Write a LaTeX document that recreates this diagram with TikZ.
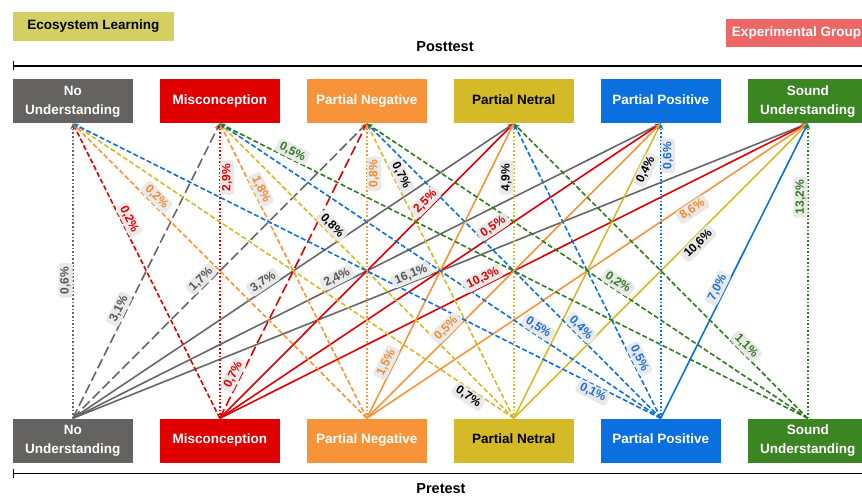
\documentclass[tikz,border=0pt]{standalone}
\usepackage{fontspec}
\setmainfont{Liberation Sans}
\usetikzlibrary{arrows.meta}
\pgfdeclarelayer{bglines}
\pgfsetlayers{bglines,main}
\definecolor{cgray}{HTML}{666666}
\definecolor{bgray}{HTML}{656262}
\definecolor{cred}{HTML}{E00000}
\definecolor{corange}{HTML}{F7943A}
\definecolor{cyellow}{HTML}{D5BA27}
\definecolor{cblue}{HTML}{0A70E0}
\definecolor{cgreen}{HTML}{3B8523}
\definecolor{lgreen}{HTML}{2E7A1E}
\definecolor{tgray}{HTML}{555555}
\definecolor{tred}{HTML}{E00000}
\definecolor{torange}{HTML}{F48A30}
\definecolor{tblue}{HTML}{1C6FD8}
\definecolor{tgreen}{HTML}{2F7D1F}
\definecolor{labfill}{HTML}{E9E9E9}
\definecolor{ecofill}{HTML}{D3CF62}
\definecolor{expfill}{HTML}{EE6767}
\newcommand\mylink[6]{%
  \begin{pgfonlayer}{bglines}\draw[#1,#2] (#3) -- (#4);\end{pgfonlayer}
  \path (#3) -- (#4) node[lab,#5]{#6};}
\begin{document}
\begin{tikzpicture}[x=1pt,y=-1pt,
  catbox/.style={minimum width=120pt,minimum height=44pt,inner sep=0pt,align=center,text=white,font=\bfseries\fontsize{13.5}{19}\selectfont},
  conn/.style={line width=1.6pt,-{Stealth[length=6pt,width=5pt]}},
  vline/.style={conn,dash pattern=on 1.6pt off 2pt},
  dline/.style={conn,dash pattern=on 5pt off 2.5pt},
  lline/.style={conn,dash pattern=on 10pt off 4pt},
  sline/.style={conn},
  lab/.style={fill=labfill,rounded corners=3pt,inner xsep=3.5pt,inner ysep=2pt,font=\bfseries\fontsize{12}{13}\selectfont},
]
\useasboundingbox (0,0) rectangle (862,498);

% header
\node[fill=ecofill,minimum width=161pt,minimum height=29pt,inner sep=0pt,font=\bfseries\fontsize{13.5}{15}\selectfont] (eco) at (93.4,26.5) {Ecosystem Learning};
\node[fill=expfill,text=white,minimum width=141pt,minimum height=28pt,inner sep=0pt,font=\bfseries\fontsize{13.5}{15}\selectfont] (exp) at (796.5,33) {Experimental Group};
\node[font=\bfseries\fontsize{14.5}{16}\selectfont] (post) at (445,47) {Posttest};
\node[font=\bfseries\fontsize{14.5}{16}\selectfont] (pre) at (441,489) {Pretest};
\coordinate (pl) at (12.7,65.7); \coordinate (pr) at (870,65.7);
\coordinate (ql) at (12.7,473.3); \coordinate (qr) at (870,473.3);
\draw[line width=1.6pt,{Bar[width=9pt]}-] (pl) -- (pr);
\draw[line width=1.6pt,{Bar[width=9pt]}-] (ql) -- (qr);

% posttest boxes
\node[catbox,fill=bgray] (tNU) at (72.8,101.3) {No\\Understanding};
\node[catbox,fill=cred] (tMC) at (219.8,101.3) {Misconception};
\node[catbox,fill=corange] (tPNg) at (366.8,101.3) {Partial Negative};
\node[catbox,fill=cyellow,text=black] (tPNt) at (513.8,101.3) {Partial Netral\vphantom{g}};
\node[catbox,fill=cblue] (tPPo) at (660.8,101.3) {Partial Positive\vphantom{g}};
\node[catbox,fill=cgreen] (tSU) at (807.8,101.3) {Sound\\Understanding};
% pretest boxes
\node[catbox,fill=bgray] (bNU) at (72.8,440.5) {No\\Understanding};
\node[catbox,fill=cred] (bMC) at (219.8,440.5) {Misconception};
\node[catbox,fill=corange] (bPNg) at (366.8,440.5) {Partial Negative};
\node[catbox,fill=cyellow,text=black] (bPNt) at (513.8,440.5) {Partial Netral\vphantom{g}};
\node[catbox,fill=cblue] (bPPo) at (660.8,440.5) {Partial Positive\vphantom{g}};
\node[catbox,fill=cgreen] (bSU) at (807.8,440.5) {Sound\\Understanding};

% gray
\mylink{vline}{cgray}{bNU.north}{tNU.south}{pos=.468,rotate=90,anchor=south,text=tgray}{0,6\%}
\mylink{lline}{cgray}{bNU.north}{tMC.south}{pos=.359,sloped,above,text=tgray}{3,1\%}
\mylink{lline}{cgray}{bNU.north}{tPNg.south}{pos=.454,sloped,above,text=tgray}{1,7\%}
\mylink{sline}{cgray}{bNU.north}{tPNt.south}{pos=.441,sloped,above,text=tgray}{3,7\%}
\mylink{sline}{cgray}{bNU.north}{tPPo.south}{pos=.455,sloped,above,text=tgray}{2,4\%}
\mylink{sline}{cgray}{bNU.north}{tSU.south}{pos=.464,sloped,above,text=tgray}{16,1\%}
% red
\mylink{dline}{cred}{bMC.north}{tNU.south}{pos=.663,sloped,above,text=tred}{0,2\%}
\mylink{vline}{cred}{bMC.north}{tMC.south}{pos=.817,rotate=90,anchor=north,text=tred}{2,9\%}
\mylink{lline}{cred}{bMC.north}{tPNg.south}{pos=.136,sloped,above,text=tred}{0,7\%}
\mylink{sline}{cred}{bMC.north}{tPNt.south}{pos=.717,sloped,above,text=tred}{2,5\%}
\mylink{sline}{cred}{bMC.north}{tPPo.south}{pos=.629,sloped,above,text=tred}{0,5\%}
\mylink{sline}{cred}{bMC.north}{tSU.south}{pos=.453,sloped,above,text=tred}{10,3\%}
% orange
\mylink{dline}{corange}{bPNg.north}{tNU.south}{pos=.733,sloped,above,text=torange}{0,2\%}
\mylink{dline}{corange}{bPNg.north}{tMC.south}{pos=.765,sloped,above,text=torange}{1,8\%}
\mylink{vline}{corange}{bPNg.north}{tPNg.south}{pos=.83,rotate=90,anchor=north,text=torange}{0,8\%}
\mylink{sline}{corange}{bPNg.north}{tPNt.south}{pos=.178,sloped,above,text=torange}{1,5\%}
\mylink{sline}{corange}{bPNg.north}{tPPo.south}{pos=.288,sloped,above,text=torange}{0,5\%}
\mylink{sline}{corange}{bPNg.north}{tSU.south}{pos=.729,sloped,below,text=torange}{8,6\%}
% yellow
\mylink{dline}{cyellow}{bPNt.north}{tNU.south}{pos=.094,sloped,below,text=black}{0,7\%}
\mylink{dline}{cyellow}{bPNt.north}{tMC.south}{pos=.636,sloped,above,text=black}{0,8\%}
\mylink{dline}{cyellow}{bPNt.north}{tPNg.south}{pos=.812,sloped,above,text=black}{0,7\%}
\mylink{vline}{cyellow}{bPNt.north}{tPNt.south}{pos=.817,rotate=90,anchor=south,text=black}{4,9\%}
\mylink{sline}{cyellow}{bPNt.north}{tPPo.south}{pos=.854,sloped,below,text=black}{0,4\%}
\mylink{sline}{cyellow}{bPNt.north}{tSU.south}{pos=.610,sloped,below,text=black}{10,6\%}
% blue
\mylink{dline}{cblue}{bPPo.north}{tNU.south}{pos=.110,sloped,below,text=tblue}{0,1\%}
\mylink{dline}{cblue}{bPPo.north}{tMC.south}{pos=.287,sloped,above,text=tblue}{0,5\%}
\mylink{dline}{cblue}{bPPo.north}{tPNg.south}{pos=.290,sloped,above,text=tblue}{0,4\%}
\mylink{dline}{cblue}{bPPo.north}{tPNt.south}{pos=.191,sloped,above,text=tblue}{0,5\%}
\mylink{vline}{cblue}{bPPo.north}{tPPo.south}{pos=.89,rotate=90,anchor=north,text=tblue}{0,6\%}
\mylink{sline}{cblue}{bPPo.north}{tSU.south}{pos=.431,sloped,above,text=tblue}{7,0\%}
% green
\mylink{dline}{lgreen}{bSU.north}{tMC.south}{pos=.882,sloped,above,text=tgreen}{0,5\%}
\mylink{dline}{lgreen}{bSU.north}{tPNg.south}{pos=.440,sloped,above,text=tgreen}{0,2\%}
\mylink{dline}{lgreen}{bSU.north}{tPNt.south}{pos=.227,sloped,above,text=tgreen}{1,1\%}
\mylink{vline}{lgreen}{bSU.north}{tSU.south}{pos=.75,rotate=90,anchor=south,text=tgreen}{13,2\%}
\end{tikzpicture}
\end{document}
